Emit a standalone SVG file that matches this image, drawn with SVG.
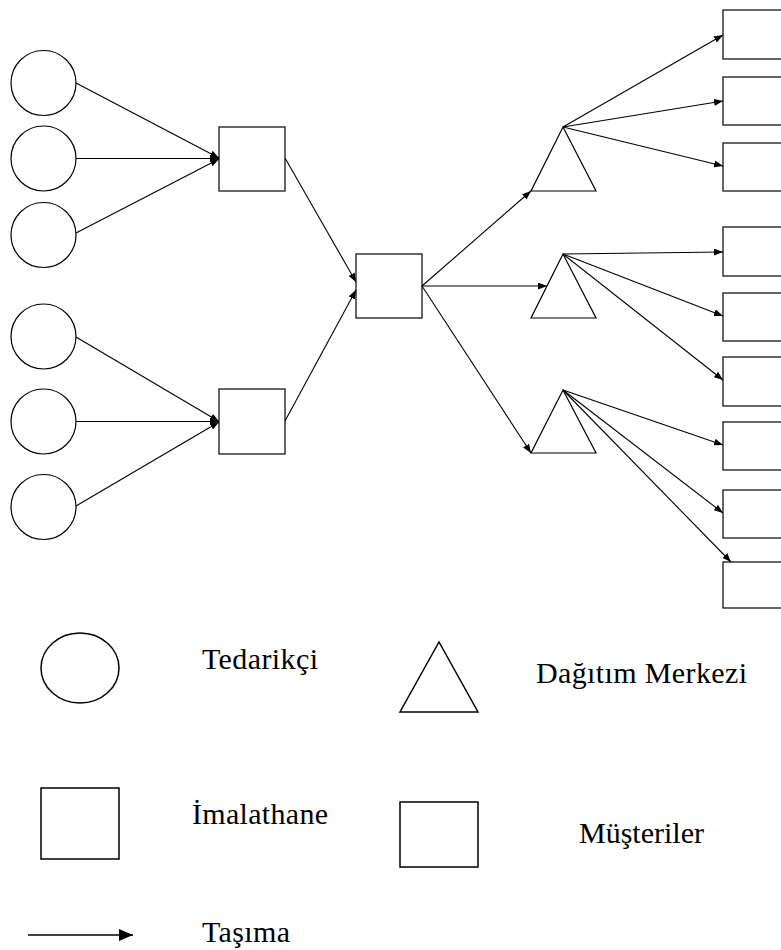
<svg xmlns="http://www.w3.org/2000/svg" width="781" height="950" viewBox="0 0 781 950">
  <style>
    .shape { fill: #ffffff; stroke: #000000; stroke-width: 1.2; }
    .legend { fill: #ffffff; stroke: #000000; stroke-width: 1.5; }
    .link { stroke: #000000; stroke-width: 1.1; fill: none; marker-end: url(#arrow); }
    .label { font-family: "Liberation Serif", "Times New Roman", serif; font-size: 30px; fill: #000000; }
  </style>
  <defs>
    <marker id="arrow" markerUnits="userSpaceOnUse" markerWidth="9" markerHeight="7" refX="9" refY="3.5" orient="auto">
      <path d="M0,0 L9,3.5 L0,7 z" fill="#000000"/>
    </marker>
    <marker id="arrowBig" markerUnits="userSpaceOnUse" markerWidth="14" markerHeight="12" refX="14" refY="6" orient="auto">
      <path d="M0,0 L14,6 L0,12 z" fill="#000000"/>
    </marker>
  </defs>
  <rect width="781" height="950" fill="#ffffff"/>

  <!-- suppliers -->
  <g id="supplier-1"><circle class="shape" cx="43.5" cy="83" r="32.5"/></g>
  <g id="supplier-2"><circle class="shape" cx="43.5" cy="158.5" r="32.5"/></g>
  <g id="supplier-3"><circle class="shape" cx="43.5" cy="235" r="32.5"/></g>
  <g id="supplier-4"><circle class="shape" cx="43.5" cy="336.5" r="32.5"/></g>
  <g id="supplier-5"><circle class="shape" cx="43.5" cy="421.5" r="32.5"/></g>
  <g id="supplier-6"><circle class="shape" cx="43.5" cy="507" r="32.5"/></g>

  <!-- plants -->
  <g id="plant-1"><rect class="shape" x="219" y="127" width="66" height="64"/></g>
  <g id="plant-2"><rect class="shape" x="219" y="389" width="66" height="65"/></g>
  <g id="plant-central"><rect class="shape" x="356" y="254" width="66" height="64"/></g>

  <!-- distribution centres -->
  <g id="dc-1"><polygon class="shape" points="563,127 596,191 531,191"/></g>
  <g id="dc-2"><polygon class="shape" points="563,254 596,318 531,318"/></g>
  <g id="dc-3"><polygon class="shape" points="563,390 596,453 531,453"/></g>

  <!-- customers -->
  <g id="customer-1"><rect class="shape" x="723" y="10" width="70" height="49"/></g>
  <g id="customer-2"><rect class="shape" x="723" y="77" width="70" height="48"/></g>
  <g id="customer-3"><rect class="shape" x="723" y="143" width="70" height="48"/></g>
  <g id="customer-4"><rect class="shape" x="723" y="227" width="70" height="49"/></g>
  <g id="customer-5"><rect class="shape" x="723" y="293" width="70" height="48"/></g>
  <g id="customer-6"><rect class="shape" x="723" y="357" width="70" height="49"/></g>
  <g id="customer-7"><rect class="shape" x="723" y="422" width="70" height="48"/></g>
  <g id="customer-8"><rect class="shape" x="723" y="490" width="70" height="48"/></g>
  <g id="customer-9"><rect class="shape" x="723" y="562" width="70" height="46"/></g>

  <!-- transport links -->
  <g id="connectors">
    <line class="link" x1="76" y1="83" x2="219" y2="158"/>
    <line class="link" x1="76" y1="158.5" x2="219" y2="158.5"/>
    <line class="link" x1="76" y1="233" x2="219" y2="159"/>
    <line class="link" x1="76" y1="337" x2="219" y2="421.5"/>
    <line class="link" x1="76" y1="421.5" x2="219" y2="421.5"/>
    <line class="link" x1="76" y1="506" x2="219" y2="422"/>

    <line class="link" x1="285" y1="158" x2="356" y2="282"/>
    <line class="link" x1="285" y1="421" x2="356" y2="290"/>

    <line class="link" x1="422" y1="286" x2="531" y2="191"/>
    <line class="link" x1="422" y1="286" x2="547" y2="286"/>
    <line class="link" x1="422" y1="286" x2="531" y2="453"/>

    <line class="link" x1="563" y1="127" x2="723" y2="35"/>
    <line class="link" x1="563" y1="127" x2="723" y2="101"/>
    <line class="link" x1="563" y1="127" x2="723" y2="166"/>

    <line class="link" x1="563" y1="254" x2="723" y2="252"/>
    <line class="link" x1="563" y1="254" x2="723" y2="316"/>
    <line class="link" x1="563" y1="254" x2="723" y2="380"/>

    <line class="link" x1="563" y1="390" x2="723" y2="445"/>
    <line class="link" x1="563" y1="390" x2="723" y2="513"/>
    <line class="link" x1="563" y1="390" x2="731" y2="562"/>
  </g>

  <!-- legend -->
  <g id="legend">
    <ellipse class="legend" cx="80" cy="668" rx="39" ry="35"/>
    <text class="label" x="202" y="669" textLength="116">Tedarikçi</text>
    <polygon class="legend" points="439,642 478,712 400,712"/>
    <text class="label" x="536" y="683" textLength="211">Dağıtım Merkezi</text>
    <rect class="legend" x="41" y="788" width="78" height="71"/>
    <text class="label" x="192" y="824" textLength="136">İmalathane</text>
    <rect class="legend" x="400" y="802" width="78" height="65"/>
    <text class="label" x="579" y="843" textLength="125">Müşteriler</text>
    <line x1="28" y1="935" x2="133" y2="935" stroke="#000000" stroke-width="1.3" marker-end="url(#arrowBig)"/>
    <text class="label" x="202" y="942" textLength="88">Taşıma</text>
  </g>
</svg>
